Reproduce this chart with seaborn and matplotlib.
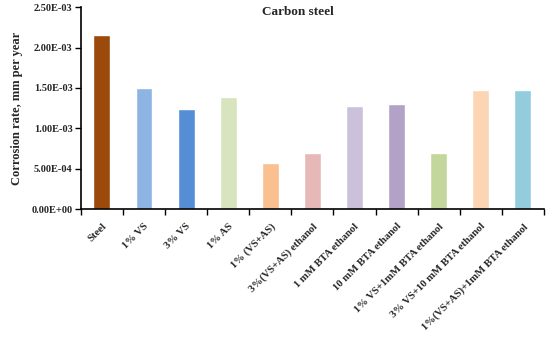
import matplotlib
matplotlib.use("Agg")
import matplotlib.pyplot as plt
import seaborn as sns
import pandas as pd
import numpy as np
from matplotlib.ticker import FixedLocator

categories = ["Steel", "1% VS", "3% VS", "1% AS", "1% (VS+AS)", "3%(VS+AS) ethanol",
              "1 mM BTA ethanol", "10 mM BTA ethanol", "1% VS+1mM BTA ethanol",
              "3% VS+10 mM BTA ethanol", "1%(VS+AS)+1mM BTA ethanol"]
values = [2.16e-3, 1.50e-3, 1.235e-3, 1.385e-3, 0.57e-3, 0.69e-3,
          1.28e-3, 1.305e-3, 0.70e-3, 1.48e-3, 1.48e-3]
colors = ["#9C4A0B", "#8DB4E2", "#558ED5", "#D7E4BD", "#FAC090", "#E6B9B8",
          "#CCC1DA", "#B3A2C7", "#C3D69B", "#FCD5B5", "#93CDDD"]
yticks = [0, 5e-4, 1e-3, 1.5e-3, 2e-3, 2.5e-3]
ytick_labels = ["0.00E+00", "5.00E-04", "1.00E-03", "1.50E-03", "2.00E-03", "2.50E-03"]

sns.set_style("white")
plt.rcParams["font.family"] = ["Liberation Serif", "DejaVu Serif"]

df = pd.DataFrame({"cat": categories, "val": values})
fig = plt.figure(figsize=(5.5, 3.39), dpi=100)
ax = fig.add_axes([0.147, 0.383, 0.842, 0.596])
sns.barplot(data=df, x="cat", y="val", hue="cat", palette=colors, legend=False,
            width=0.4, ax=ax, saturation=1)

ax.set_ylim(0, 2.5e-3)
ax.set_xlim(-0.5, len(categories) - 0.5)
ax.set_yticks(yticks)
ax.set_yticklabels(ytick_labels, fontsize=7.5, fontweight="bold")
ax.set_xticks(range(len(categories)))
ax.set_xticklabels(categories, rotation=45, ha="right", rotation_mode="anchor",
                   fontsize=7.7, fontweight="bold")
ax.xaxis.set_minor_locator(FixedLocator(np.arange(-0.5, len(categories), 1.0)))
ax.tick_params(axis="x", which="major", length=0, pad=9)
ax.tick_params(axis="x", which="minor", length=4, width=1, color="black", direction="out", bottom=True)
ax.tick_params(axis="y", which="major", length=4, width=1, color="black", direction="out", left=True, pad=2)
ax.set_xlabel("")
ax.set_ylabel("Corrosion rate, mm per year", fontsize=9, fontweight="bold", labelpad=6)
for s in ["top", "right"]:
    ax.spines[s].set_visible(False)
for s in ["left", "bottom"]:
    ax.spines[s].set_color("black")
    ax.spines[s].set_linewidth(1.2)
fig.text(0.542, 0.965, "Carbon steel", ha="center", va="center",
         fontsize=9.5, fontweight="bold")
ax.grid(False)
fig.savefig("out.png", dpi=100)
